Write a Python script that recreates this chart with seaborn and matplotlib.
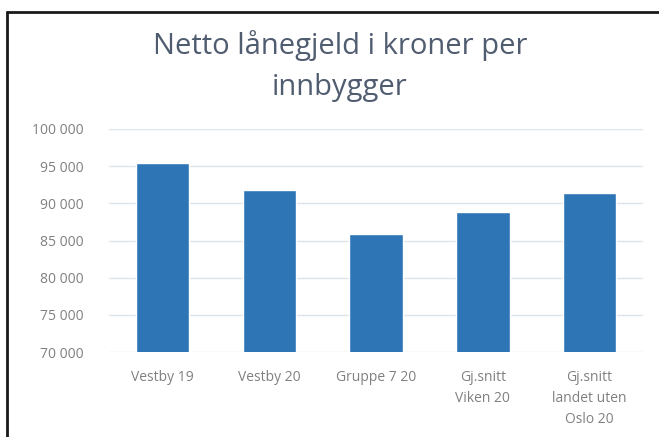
import pandas as pd
import matplotlib.pyplot as plt
import seaborn as sns
from matplotlib.lines import Line2D

sns.set_style("white")
plt.rcParams['font.family'] = ['Open Sans', 'DejaVu Sans']

kategorier = ["Vestby 19", "Vestby 20", "Gruppe 7 20", "Gj.snitt\nViken 20", "Gj.snitt\nlandet uten\nOslo 20"]
verdier = [95400, 91750, 85850, 88850, 91350]
yticks = [70000, 75000, 80000, 85000, 90000, 95000, 100000]

df = pd.DataFrame({"kategori": kategorier, "verdi": verdier})

fig = plt.figure(figsize=(6.59, 4.37), dpi=100)
ax = fig.add_axes([109 / 659, 1 - 352 / 437, (643 - 109) / 659, (352 - 129) / 437])

sns.barplot(ax=ax, data=df, x="kategori", y="verdi", color="#2e75b6", width=0.5, saturation=1)

ax.set_ylim(70000, 100000)
ax.set_yticks(yticks)
ax.set_yticklabels([f"{v:,}".replace(",", " ") for v in yticks])
ax.yaxis.grid(True, color="#dfe3ea", linewidth=1)
ax.set_axisbelow(True)
for s in ax.spines.values():
    s.set_visible(False)
ax.tick_params(axis="both", length=0, colors="#808080", labelsize=10)
ax.tick_params(axis="y", pad=18)
ax.tick_params(axis="x", pad=13)
for t in ax.get_xticklabels():
    t.set_linespacing(1.55)
ax.set_xlabel("")
ax.set_ylabel("")

fig.text(340 / 659, 1 - 46 / 437, "Netto lånegjeld i kroner per", ha="center", va="center",
         fontsize=21, color="#505c70")
fig.text(340 / 659, 1 - 88 / 437, "innbygger", ha="center", va="center",
         fontsize=21, color="#505c70")
# top and left edge of the chart frame
fig.add_artist(Line2D([6.5 / 659, 1], [1 - 11.5 / 437, 1 - 11.5 / 437], color="#1a1a1a", linewidth=2))
fig.add_artist(Line2D([6.5 / 659, 6.5 / 659], [0, 1 - 11.5 / 437], color="#1a1a1a", linewidth=2))

plt.savefig("out.png", dpi=100)
